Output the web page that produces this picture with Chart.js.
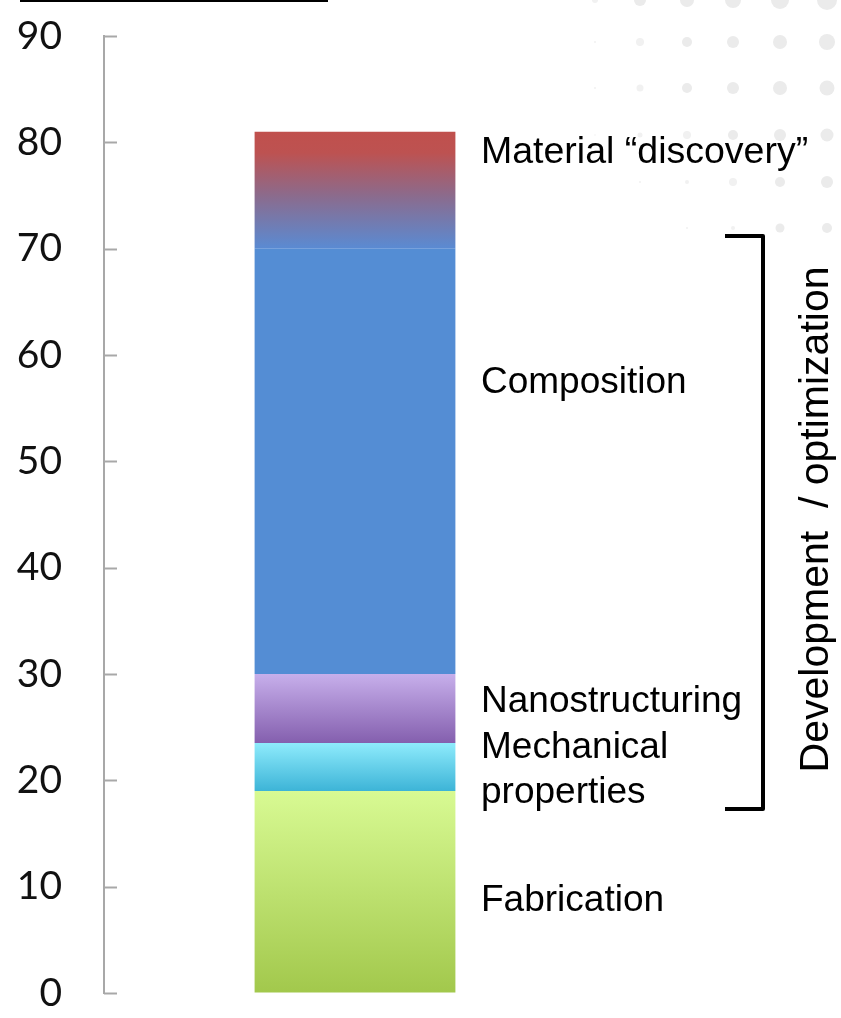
<!DOCTYPE html>
<html>
<head>
<meta charset="utf-8">
<script src="https://cdn.jsdelivr.net/npm/chart.js@4.4.1/dist/chart.umd.min.js"></script>
<style>
  html, body { margin: 0; padding: 0; background: #ffffff; }
  #wrap { width: 841px; height: 1018px; position: relative; }
</style>
</head>
<body>
<div id="wrap"><canvas id="c"></canvas></div>
<script>
// ---- data ----
const categories = ["Publications"];
const segmentNames = ["Fabrication", "Mechanical properties", "Nanostructuring", "Composition", "Material \u201cdiscovery\u201d"];
const segmentValues = [19, 4.5, 6.5, 40, 11];
const yTicks = [0, 10, 20, 30, 40, 50, 60, 70, 80, 90];
const groupLabel = "Development  / optimization";
const groupRange = [17.3, 71.2]; // values spanned by the bracket (approx.)

// ---- styles ----
const gradients = [
  [[0, "#d8fa93"], [1, "#a2c84c"]],
  [[0, "#8eebfc"], [1, "#3db4d7"]],
  [[0, "#c7afeb"], [1, "#845fae"]],
  [[0, "#548dd4"], [1, "#548dd4"]],
  [[0, "#c0504d"], [0.18, "#bd5251"], [0.55, "#8b6b8d"], [1, "#5a8bd3"]]
];

function segGradient(ctx) {
  const chart = ctx.chart;
  const area = chart.chartArea;
  const i = ctx.datasetIndex;
  const stops = gradients[i];
  if (!area) return stops[0][1];
  const y = chart.scales.y;
  let start = 0;
  for (let k = 0; k < i; k++) start += segmentValues[k];
  const end = start + segmentValues[i];
  const g = chart.ctx.createLinearGradient(0, y.getPixelForValue(end), 0, y.getPixelForValue(start));
  stops.forEach(s => g.addColorStop(s[0], s[1]));
  return g;
}

const datasets = segmentValues.map((v, i) => ({
  label: segmentNames[i],
  data: [v],
  backgroundColor: segGradient,
  borderWidth: 0,
  barPercentage: 1,
  categoryPercentage: 0.4
}));

// annotation texts (label, anchor value on y scale for baseline, font size)
const annoTexts = [
  ["Material \u201cdiscovery\u201d", 78.1, 37.5],
  ["Composition", 56.4, 37],
  ["Nanostructuring", 26.4, 37],
  ["Mechanical", 22.1, 37],
  ["properties", 17.9, 37],
  ["Fabrication", 7.7, 37]
];

const decor = {
  id: "decor",
  beforeDraw(chart) {
    const c = chart.ctx;
    c.save();
    // background dot pattern (top right)
    const cols = [595, 640, 687, 733, 780, 827];
    const rows = [0, 42, 88, 135, 182, 228];
    const radii = [
      [3, 6, 7, 8, 9, 10],
      [1, 4, 5, 6, 7, 8],
      [1, 3.5, 5, 6, 7, 7.5],
      [0.8, 2.5, 4, 5, 6, 6.5],
      [0, 1, 2, 4, 5, 6],
      [0, 0, 1, 2, 4.5, 5]
    ];
    rows.forEach((ry, r) => cols.forEach((cx, k) => {
      const rad = radii[r][k];
      if (rad <= 0) return;
      c.fillStyle = rad > 4 ? "#ebebeb" : "#f1f1f1";
      c.beginPath();
      c.arc(cx, ry, rad, 0, Math.PI * 2);
      c.fill();
    }));
    // clipped title underline at the very top
    c.fillStyle = "#000";
    c.fillRect(20, 0, 308, 2);
    c.restore();
  },
  afterDraw(chart) {
    const c = chart.ctx;
    const y = chart.scales.y;
    c.save();
    // inward tick marks
    c.strokeStyle = "#a8a8a8";
    c.lineWidth = 2;
    y.ticks.forEach((t, i) => {
      const py = Math.round(y.getPixelForTick(i)) + 0.5;
      c.beginPath();
      c.moveTo(y.right, py);
      c.lineTo(y.right + 13, py);
      c.stroke();
    });
    // annotations
    c.fillStyle = "#000";
    c.textAlign = "left";
    c.textBaseline = "alphabetic";
    annoTexts.forEach(([t, v, fs]) => {
      c.font = fs + "px 'Liberation Sans', Arial, sans-serif";
      c.fillText(t, 481, y.getPixelForValue(v));
    });
    // bracket
    const top = y.getPixelForValue(groupRange[1]);
    const bot = y.getPixelForValue(groupRange[0]);
    c.strokeStyle = "#000";
    c.lineWidth = 4;
    c.lineJoin = "round";
    c.beginPath();
    c.moveTo(725, top);
    c.lineTo(763, top);
    c.lineTo(763, bot);
    c.lineTo(725, bot);
    c.stroke();
    // rotated group label
    c.translate(828, (top + bot) / 2 - 3);
    c.rotate(-Math.PI / 2);
    c.font = "41px 'Liberation Sans', Arial, sans-serif";
    c.textAlign = "center";
    c.fillText(groupLabel, 0, 0);
    c.restore();
  }
};

new Chart(document.getElementById("c"), {
  type: "bar",
  data: { labels: categories, datasets },
  options: {
    responsive: true,
    maintainAspectRatio: false,
    animation: false,
    layout: { padding: { top: 36, bottom: 25, left: 0, right: 235 } },
    plugins: { legend: { display: false }, tooltip: { enabled: false } },
    scales: {
      x: { display: false, stacked: true },
      y: {
        stacked: true,
        min: 0,
        max: 90,
        afterBuildTicks(scale) { scale.ticks = yTicks.map(v => ({ value: v })); },
        afterFit(scale) { scale.width = 104; scale.paddingTop = 0; scale.paddingBottom = 0; },
        ticks: {
          padding: 42,
          color: "#111",
          font: { family: "Lato, 'Open Sans', sans-serif", size: 39 }
        },
        grid: { display: true, drawOnChartArea: false, drawTicks: false },
        border: { display: true, color: "#a8a8a8", width: 2 }
      }
    }
  },
  plugins: [decor]
});
</script>
</body>
</html>
